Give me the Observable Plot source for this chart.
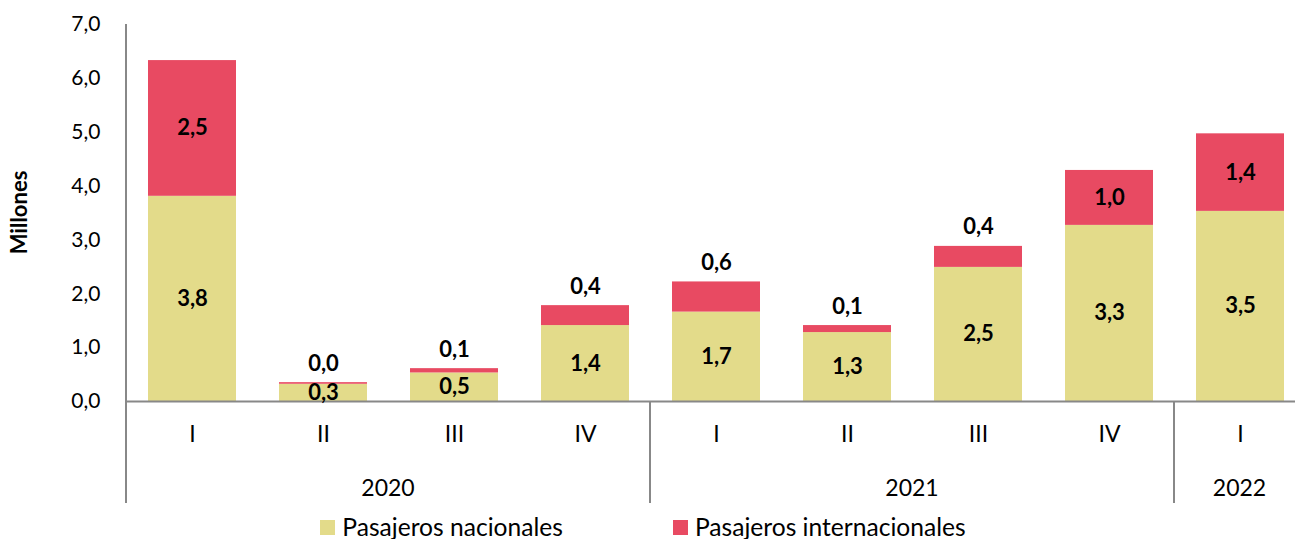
<!DOCTYPE html>
<html>
<head>
<meta charset="utf-8">
<script src="https://cdn.jsdelivr.net/npm/d3@7"></script>
<script src="https://cdn.jsdelivr.net/npm/@observablehq/plot@0.6"></script>
<style>
  html, body { margin: 0; padding: 0; background: #fff; overflow: hidden; }
  #chart { width: 1295px; height: 506px; overflow: hidden; }
  #chart svg { max-width: none !important; }
  .legend { width: 1286px; padding-right: 9px; display: flex; justify-content: center; gap: 110px; font-family: Lato, sans-serif; font-size: 24.6px; line-height: 28px; color: #000; margin-top: 7px; }
  .legend .item { display: flex; align-items: center; }
  .legend .sw { width: 15px; height: 15px; margin-right: 7px; display: inline-block; }
</style>
</head>
<body>
<div id="chart"></div>
<script>
const quarters = ["I", "II", "III", "IV", "I", "II", "III", "IV", "I"];
const years = ["2020", "2020", "2020", "2020", "2021", "2021", "2021", "2021", "2022"];
const nacionales = [3.81, 0.32, 0.53, 1.41, 1.66, 1.28, 2.49, 3.27, 3.53];
const internacionales = [2.52, 0.03, 0.08, 0.37, 0.56, 0.13, 0.39, 1.02, 1.44];
const series = ["Pasajeros nacionales", "Pasajeros internacionales"];
const colors = ["#E3DB8A", "#E84A62"];
const yTicks = [0, 1, 2, 3, 4, 5, 6, 7];
const axisLabel = "Millones";

const fmt = v => v.toFixed(1).replace(".", ",");
const keys = quarters.map((q, i) => `${years[i]}-${q}`);

const rows = [];
keys.forEach((k, i) => {
  rows.push({key: k, serie: series[0], value: nacionales[i]});
  rows.push({key: k, serie: series[1], value: internacionales[i]});
});

const insideLabels = [];
const aboveLabels = [];
keys.forEach((k, i) => {
  insideLabels.push({key: k, y: nacionales[i] / 2, text: fmt(nacionales[i])});
  if (internacionales[i] >= 0.9) {
    insideLabels.push({key: k, y: nacionales[i] + internacionales[i] / 2, text: fmt(internacionales[i])});
  } else {
    aboveLabels.push({key: k, y: nacionales[i] + internacionales[i], text: fmt(internacionales[i])});
  }
});

const plot = Plot.plot({
  width: 1310,
  height: 506,
  marginLeft: 126,
  marginRight: 5,
  marginTop: 24,
  marginBottom: 105,
  style: {fontFamily: "Lato, sans-serif", fontSize: "21px", color: "#000", background: "#fff", overflow: "visible", maxWidth: "none"},
  x: {domain: keys, paddingInner: 0.33, paddingOuter: 0.165},
  y: {domain: [0, 7]},
  color: {domain: series, range: colors},
  marks: [
    Plot.barY(rows, {x: "key", y: "value", fill: "serie"}),
    Plot.ruleY([0], {stroke: "#888", strokeWidth: 2}),
    Plot.axisX({tickFormat: k => k.split("-")[1], tickSize: 0, tickPadding: 24, fontSize: 23, label: null}),
    Plot.axisY(yTicks, {tickFormat: fmt, tickSize: 0, tickPadding: 26, fontSize: 21, label: null}),
    Plot.text(insideLabels, {x: "key", y: "y", text: "text", fontWeight: "bold", fontSize: 22, fill: "#000"}),
    Plot.text(aboveLabels, {x: "key", y: "y", text: "text", fontWeight: "bold", fontSize: 22, fill: "#000", dy: -19})
  ]
});

// Year group separators & labels, built from the plot's own scales
const xd = plot.scale("x");
const yd = plot.scale("y");
const xs = d3.scaleBand().domain(xd.domain).range(xd.range)
  .paddingInner(xd.paddingInner).paddingOuter(xd.paddingOuter).align(xd.align ?? 0.5);
const ys = d3.scaleLinear().domain(yd.domain).range(yd.range);
const step = xs.step();
const edge = k => xs(k) - (step - xs.bandwidth()) / 2;
const y0 = ys(0);
const yTop = ys(d3.max(yTicks));
const yBottom = y0 + 102;

const svg = d3.select(plot);
const g = svg.append("g");
g.append("line").attr("x1", edge(keys[0])).attr("x2", edge(keys[0]))
  .attr("y1", yTop).attr("y2", yBottom).attr("stroke", "#888").attr("stroke-width", 2);

const groups = d3.groups(keys.map((k, i) => ({k, year: years[i]})), d => d.year);
groups.forEach(([year, items]) => {
  const x1 = edge(items[0].k);
  const x2 = edge(items[items.length - 1].k) + step;
  g.append("line").attr("x1", x1).attr("x2", x1).attr("y1", y0).attr("y2", yBottom)
    .attr("stroke", "#888").attr("stroke-width", 2);
  g.append("text").attr("x", (x1 + x2) / 2).attr("y", y0 + 89)
    .attr("text-anchor", "middle").attr("dominant-baseline", "middle")
    .attr("font-size", 23).attr("fill", "#000").text(year);
});

g.append("text")
  .attr("transform", `translate(21,${(yTop + y0) / 2}) rotate(-90)`)
  .attr("text-anchor", "middle").attr("dominant-baseline", "middle")
  .attr("font-weight", "bold").attr("font-size", 22).attr("fill", "#000")
  .text(axisLabel);

document.getElementById("chart").appendChild(plot);

// Legend
const legend = document.createElement("div");
legend.className = "legend";
series.forEach((s, i) => {
  const item = document.createElement("div");
  item.className = "item";
  const sw = document.createElement("span");
  sw.className = "sw";
  sw.style.background = colors[i];
  const t = document.createElement("span");
  t.textContent = s;
  item.appendChild(sw);
  item.appendChild(t);
  legend.appendChild(item);
});
document.body.appendChild(legend);
</script>
</body>
</html>
